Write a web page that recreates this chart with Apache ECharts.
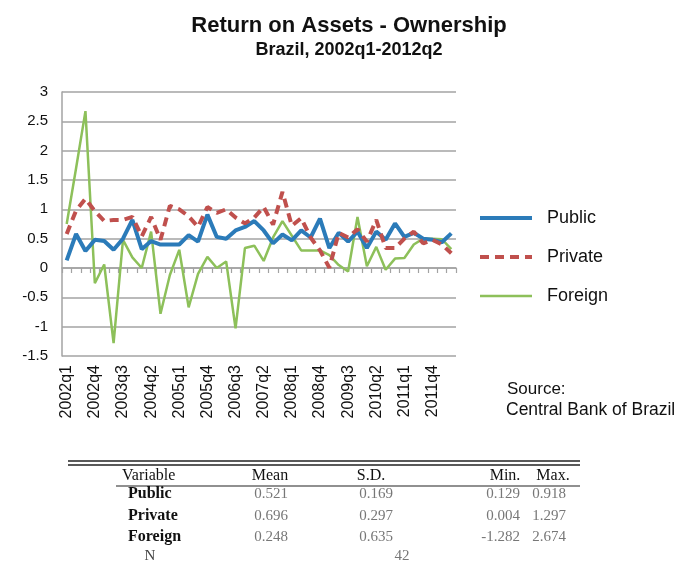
<!DOCTYPE html>
<html>
<head>
<meta charset="utf-8">
<script src="https://cdn.jsdelivr.net/npm/echarts@6/dist/echarts.min.js"></script>
<style>
  html, body { margin: 0; padding: 0; background: #fff; }
  #chart { width: 680px; height: 563px; }
</style>
</head>
<body>
<div id="chart"></div>
<script>
const quarters = [
  "2002q1", "2002q2", "2002q3", "2002q4", "2003q1", "2003q2", "2003q3", "2003q4",
  "2004q1", "2004q2", "2004q3", "2004q4", "2005q1", "2005q2", "2005q3", "2005q4",
  "2006q1", "2006q2", "2006q3", "2006q4", "2007q1", "2007q2", "2007q3", "2007q4",
  "2008q1", "2008q2", "2008q3", "2008q4", "2009q1", "2009q2", "2009q3", "2009q4",
  "2010q1", "2010q2", "2010q3", "2010q4", "2011q1", "2011q2", "2011q3", "2011q4",
  "2012q1", "2012q2"
];

const publicRoa = [
  0.13, 0.58, 0.29, 0.48, 0.46, 0.31, 0.5, 0.82, 0.32, 0.46,
  0.4, 0.4, 0.4, 0.56, 0.45, 0.91, 0.53, 0.5, 0.64, 0.7,
  0.8, 0.64, 0.42, 0.57, 0.47, 0.64, 0.52, 0.84, 0.34, 0.6,
  0.45, 0.62, 0.34, 0.62, 0.48, 0.76, 0.53, 0.6, 0.5, 0.48,
  0.44, 0.59
];

const privateRoa = [
  0.58, 0.98, 1.18, 0.97, 0.8, 0.82, 0.82, 0.87, 0.54, 0.87,
  0.48, 1.06, 1.0, 0.88, 0.7, 1.04, 0.94, 1.0, 0.86, 0.76,
  0.86, 1.04, 0.74, 1.297, 0.72, 0.85, 0.52, 0.3, 0.004, 0.6,
  0.52, 0.66, 0.45, 0.82, 0.34, 0.34, 0.5, 0.62, 0.42, 0.48,
  0.4, 0.25
];

const foreignRoa = [
  0.75, 1.7, 2.674, -0.26, 0.06, -1.282, 0.48, 0.18, 0.0, 0.62,
  -0.78, -0.12, 0.31, -0.67, -0.1, 0.19, 0.0, 0.11, -1.03, 0.34,
  0.38, 0.12, 0.52, 0.8, 0.55, 0.3, 0.3, 0.3, 0.22, 0.05,
  -0.06, 0.87, 0.03, 0.36, -0.03, 0.16, 0.17, 0.4, 0.5, 0.5,
  0.49, 0.32
];

// summary table under the chart
const tableHeader = ["Variable", "Mean", "S.D.", "Min.", "Max."];
const tableRows = [
  ["Public", "0.521", "0.169", "0.129", "0.918"],
  ["Private", "0.696", "0.297", "0.004", "1.297"],
  ["Foreign", "0.248", "0.635", "-1.282", "2.674"]
];
const nObs = "42";

const chart = echarts.init(document.getElementById("chart"));

const gridColor = "#a3a3a3";
const blue = "#2b7bb9";
const red = "#c0504d";
const green = "#8dc05a";
const headerX = [122, 270, 371, 505, 553];
const headerAlign = ["left", "center", "center", "center", "center"];
const cellX = [128, 271, 376, 520, 566];
const cellAlign = ["left", "center", "center", "right", "right"];
const rowY = [494, 516, 537];

const graphics = [
  {
    type: "text",
    left: 507,
    top: 381,
    style: { text: "Source:", font: "17px 'Liberation Sans'", fill: "#111" }
  },
  {
    type: "text",
    left: 506,
    top: 401,
    style: { text: "Central Bank of Brazil", font: "17.5px 'Liberation Sans'", fill: "#111" }
  },
  { type: "line", shape: { x1: 68, y1: 461, x2: 580, y2: 461 }, style: { stroke: "#222", lineWidth: 1.5 } },
  { type: "line", shape: { x1: 68, y1: 465, x2: 580, y2: 465 }, style: { stroke: "#222", lineWidth: 1.5 } },
  { type: "line", shape: { x1: 116, y1: 486, x2: 580, y2: 486 }, style: { stroke: "#222", lineWidth: 1.2 } }
];

tableHeader.forEach(function (h, i) {
  graphics.push({
    type: "text",
    x: headerX[i],
    y: 476,
    style: {
      text: h,
      font: "16px 'Liberation Serif'",
      fill: "#111",
      textAlign: headerAlign[i],
      textVerticalAlign: "middle"
    }
  });
});

tableRows.forEach(function (row, r) {
  row.forEach(function (cell, c) {
    graphics.push({
      type: "text",
      x: cellX[c],
      y: rowY[r],
      style: {
        text: cell,
        font: c === 0 ? "bold 16px 'Liberation Serif'" : "15px 'Liberation Serif'",
        fill: c === 0 ? "#111" : "#777",
        textAlign: cellAlign[c],
        textVerticalAlign: "middle"
      }
    });
  });
});

graphics.push({
  type: "text",
  x: 150,
  y: 556,
  style: { text: "N", font: "15px 'Liberation Serif'", fill: "#444", textAlign: "center", textVerticalAlign: "middle" }
});
graphics.push({
  type: "text",
  x: 402,
  y: 556,
  style: { text: nObs, font: "15px 'Liberation Serif'", fill: "#777", textAlign: "center", textVerticalAlign: "middle" }
});

chart.setOption({
  backgroundColor: "#fff",
  animation: false,
  title: {
    text: "Return on Assets - Ownership",
    subtext: "Brazil, 2002q1-2012q2",
    left: 344,
    textAlign: "center",
    top: 10,
    itemGap: 4,
    textStyle: {
      fontFamily: "Liberation Sans",
      fontSize: 22,
      fontWeight: "bold",
      color: "#111"
    },
    subtextStyle: {
      fontFamily: "Liberation Sans",
      fontSize: 18,
      fontWeight: "bold",
      color: "#111"
    }
  },
  legend: {
    orient: "vertical",
    left: 478,
    top: 209,
    padding: 0,
    itemWidth: 52,
    itemHeight: 14,
    itemGap: 21,
    itemStyle: { color: "rgba(0,0,0,0)", borderWidth: 0 },
    textStyle: {
      fontFamily: "Liberation Sans",
      fontSize: 18,
      color: "#111",
      padding: [0, 0, 0, 10]
    },
    data: [
      { name: "Public", lineStyle: { color: blue, width: 4 } },
      { name: "Private", lineStyle: { color: red, width: 4, type: [9, 6] } },
      { name: "Foreign", lineStyle: { color: green, width: 2.5 } }
    ]
  },
  grid: {
    left: 62,
    right: 224,
    top: 92,
    bottom: 207 // plot box ends at y=356
  },
  xAxis: [
    {
      type: "category",
      data: quarters,
      position: "bottom",
      axisLine: {
        onZero: true,
        lineStyle: { color: gridColor, width: 1.5 }
      },
      axisTick: {
        show: true,
        interval: 0,
        length: 5,
        lineStyle: { color: gridColor, width: 1.2 }
      },
      axisLabel: { show: false },
      splitLine: { show: false }
    },
    {
      type: "category",
      data: quarters,
      position: "bottom",
      axisLine: { show: false, onZero: false },
      axisTick: { show: false },
      axisLabel: {
        interval: 2,
        rotate: 90,
        margin: 9,
        fontFamily: "Liberation Sans",
        fontSize: 16,
        color: "#111"
      },
      splitLine: { show: false }
    }
  ],
  yAxis: {
    type: "value",
    min: -1.5,
    max: 3,
    interval: 0.5,
    axisLine: {
      show: true,
      lineStyle: { color: gridColor, width: 1.5 }
    },
    axisTick: { show: false },
    axisLabel: {
      margin: 14,
      fontFamily: "Liberation Sans",
      fontSize: 15,
      color: "#111"
    },
    splitLine: {
      lineStyle: { color: gridColor, width: 1.5 }
    }
  },
  series: [
    {
      name: "Public",
      type: "line",
      data: publicRoa,
      symbol: "none",
      z: 3,
      color: blue,
      lineStyle: { color: blue, width: 4 }
    },
    {
      name: "Private",
      type: "line",
      data: privateRoa,
      symbol: "none",
      z: 4,
      color: red,
      lineStyle: { color: red, width: 4, type: [9, 6] }
    },
    {
      name: "Foreign",
      type: "line",
      data: foreignRoa,
      symbol: "none",
      z: 2,
      color: green,
      lineStyle: { color: green, width: 2.5 }
    }
  ],
  graphic: graphics
});
</script>
</body>
</html>
